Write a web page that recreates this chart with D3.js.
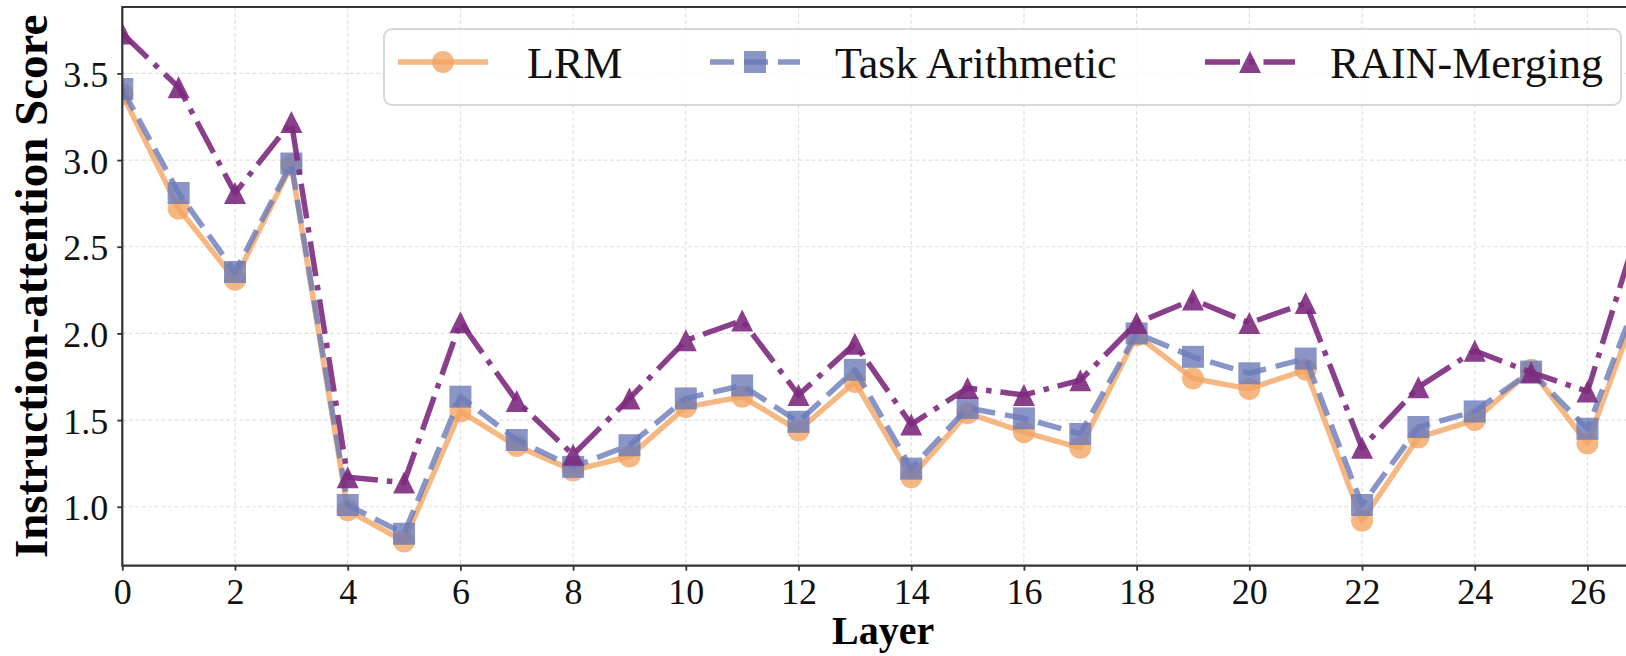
<!DOCTYPE html>
<html>
<head>
<meta charset="utf-8">
<script src="https://cdn.jsdelivr.net/npm/d3@7.9.0/dist/d3.min.js"></script>
<style>
    html, body { margin: 0; padding: 0; background: #fff; overflow: hidden; }
    svg { display: block; }
    svg text { font-family: "Liberation Serif", "Times New Roman", serif; }
</style>
</head>
<body>
<div id="chart"></div>
<script>
// === Data ===
// Layer index on the x axis (the figure is cropped just after layer 26)
const layers = d3.range(0, 28);

// Instruction-attention score per layer, one array per model
const lrmScores = [3.38, 2.72, 2.31, 2.97, 0.98, 0.80, 1.55, 1.35, 1.21, 1.29,
    1.575, 1.635, 1.44, 1.72, 1.17, 1.54, 1.43, 1.34, 1.99, 1.74,
    1.68, 1.79, 0.92, 1.40, 1.50, 1.79, 1.365, 2.25];
const taScores = [3.41, 2.81, 2.355, 2.98, 1.01, 0.845, 1.635, 1.385, 1.23, 1.355,
    1.625, 1.70, 1.49, 1.79, 1.22, 1.57, 1.51, 1.42, 2.00, 1.865,
    1.77, 1.855, 1.01, 1.46, 1.55, 1.78, 1.45, 2.30];
const rainScores = [3.73, 3.42, 2.81, 3.22, 1.17, 1.14, 2.065, 1.61, 1.30, 1.625,
    1.96, 2.075, 1.645, 1.94, 1.475, 1.685, 1.645, 1.73, 2.06, 2.195,
    2.06, 2.175, 1.34, 1.69, 1.90, 1.775, 1.665, 2.71];

// Tick values
const xTicks = d3.range(0, 27, 2);
const yTicks = [1.0, 1.5, 2.0, 2.5, 3.0, 3.5];

// Series: name, values, colour, dash, marker
const series = [
    { name: "LRM", values: lrmScores, color: "#F4A460", alpha: 0.78, dash: null, marker: "circle" },
    { name: "Task Arithmetic", values: taScores, color: "#6B7AB8", alpha: 0.8, dash: "24,10", marker: "square" },
    { name: "RAIN-Merging", values: rainScores, color: "#7D2A7E", alpha: 0.9, dash: "35,9,5.5,9", marker: "triangle" }
];

const serif = "'Liberation Serif', 'Times New Roman', serif";

// === Chart Dimensions ===
const W = 1626, H = 656;
const plot = { left: 122.3, right: 1643.8, top: 7, bottom: 565.7 };
const lineWidth = 5.5;
const markerHalf = 11;

const svg = d3.select("#chart").append("svg")
    .attr("width", W)
    .attr("height", H);

// === Scales ===
const xScale = d3.scaleLinear().domain([0, 27]).range([plot.left, plot.right]);
const yScale = d3.scaleLinear().domain([0.66, 3.883]).range([plot.bottom, plot.top]);

// Clip lines/markers to the axes box, like matplotlib does
svg.append("defs").append("clipPath").attr("id", "plot-clip")
    .append("rect")
    .attr("x", plot.left).attr("y", plot.top)
    .attr("width", plot.right - plot.left).attr("height", plot.bottom - plot.top);

// === Grid ===
const grid = svg.append("g");
grid.selectAll("line.vg").data(xTicks).join("line")
    .attr("x1", d => xScale(d)).attr("x2", d => xScale(d))
    .attr("y1", plot.top).attr("y2", plot.bottom);
grid.selectAll("line.hg").data(yTicks).join("line")
    .attr("x1", plot.left).attr("x2", plot.right)
    .attr("y1", d => yScale(d)).attr("y2", d => yScale(d));
grid.selectAll("line")
    .attr("stroke", "#e0e0e0")
    .attr("stroke-width", 1.2)
    .attr("stroke-dasharray", "4,2.5");

// === Marker shapes ===
function markerPath(type, s) {
    if (type === "circle") {
        return `M${s},0A${s},${s} 0 1,1 ${-s},0A${s},${s} 0 1,1 ${s},0Z`;
    }
    if (type === "square") {
        return `M${-s},${-s}H${s}V${s}H${-s}Z`;
    }
    return `M0,${-s}L${s},${s}L${-s},${s}Z`;
}

// === Lines and markers ===
const dataArea = svg.append("g").attr("clip-path", "url(#plot-clip)");
const lineGen = d3.line()
    .x((d, i) => xScale(layers[i]))
    .y(d => yScale(d));

series.forEach(s => {
    const g = dataArea.append("g");
    g.append("path")
        .datum(s.values)
        .attr("d", lineGen)
        .attr("fill", "none")
        .attr("stroke", s.color)
        .attr("stroke-opacity", s.alpha)
        .attr("stroke-width", lineWidth)
        .attr("stroke-linejoin", "round")
        .attr("stroke-dasharray", s.dash);
    g.selectAll("path.m").data(s.values).join("path")
        .attr("class", "m")
        .attr("transform", (d, i) => `translate(${xScale(layers[i])},${yScale(d)})`)
        .attr("d", markerPath(s.marker, markerHalf))
        .attr("fill", s.color)
        .attr("fill-opacity", s.alpha);
});

// === Axes ===
const xAxisG = svg.append("g")
    .attr("transform", `translate(0,${plot.bottom})`)
    .call(d3.axisBottom(xScale).tickValues(xTicks).tickSize(5).tickSizeOuter(0));
xAxisG.selectAll("text")
    .attr("y", 38).attr("dy", 0);

const yAxisG = svg.append("g")
    .attr("transform", `translate(${plot.left},0)`)
    .call(d3.axisLeft(yScale).tickValues(yTicks).tickFormat(d3.format(".1f"))
        .tickSize(5).tickPadding(9).tickSizeOuter(0));
yAxisG.selectAll("text")
    .attr("dy", "0.36em");

[xAxisG, yAxisG].forEach(g => {
    g.attr("font-family", serif).attr("font-size", 36);
    g.select(".domain").remove();
    g.selectAll(".tick line").attr("stroke", "#333").attr("stroke-width", 1.8);
    g.selectAll("text")
        .attr("font-family", serif)
        .attr("font-size", 36)
        .attr("fill", "#111");
});

// Spines (left, bottom, top; right edge is beyond the crop)
svg.append("path")
    .attr("d", `M${plot.right},${plot.top}H${plot.left}V${plot.bottom}H${plot.right}`)
    .attr("fill", "none")
    .attr("stroke", "#333")
    .attr("stroke-width", 2.2);

// Axis titles
svg.append("text")
    .attr("x", (plot.left + plot.right) / 2)
    .attr("y", 644)
    .attr("text-anchor", "middle")
    .attr("font-family", serif)
    .attr("font-size", 40)
    .attr("font-weight", "bold")
    .text("Layer");

svg.append("text")
    .attr("transform", `translate(47,${(plot.top + plot.bottom) / 2}) rotate(-90)`)
    .attr("text-anchor", "middle")
    .attr("font-family", serif)
    .attr("font-size", 47)
    .attr("font-weight", "bold")
    .text("Instruction-attention Score");

// === Legend ===
const legend = svg.append("g");
legend.append("rect")
    .attr("x", 384).attr("y", 29)
    .attr("width", 1237).attr("height", 76)
    .attr("rx", 8)
    .attr("fill", "#fff").attr("fill-opacity", 0.8)
    .attr("stroke", "#d8d8d8").attr("stroke-width", 2);

const legendX = [398, 710, 1205];
const legendTextX = [527, 835, 1330];
const legendY = 62;
series.forEach((s, i) => {
    const x0 = legendX[i];
    legend.append("line")
        .attr("x1", x0).attr("x2", x0 + 90)
        .attr("y1", legendY).attr("y2", legendY)
        .attr("stroke", s.color)
        .attr("stroke-opacity", s.alpha)
        .attr("stroke-width", lineWidth)
        .attr("stroke-dasharray", s.dash);
    legend.append("path")
        .attr("transform", `translate(${x0 + 45},${legendY})`)
        .attr("d", markerPath(s.marker, markerHalf))
        .attr("fill", s.color)
        .attr("fill-opacity", s.alpha);
    legend.append("text")
        .attr("x", legendTextX[i])
        .attr("y", 78)
        .attr("font-family", serif)
        .attr("font-size", 44)
        .attr("fill", "#111")
        .text(s.name);
});
</script>
</body>
</html>
